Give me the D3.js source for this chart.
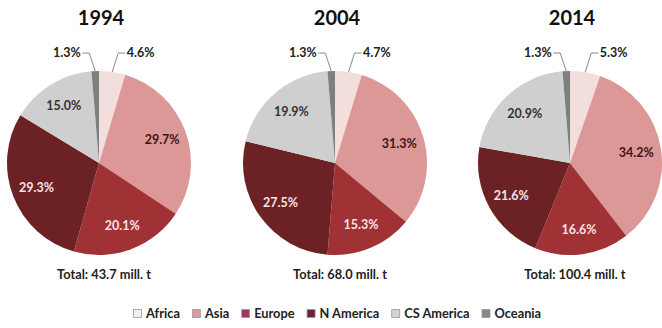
<!DOCTYPE html>
<html>
<head>
<meta charset="utf-8">
<script src="https://cdn.jsdelivr.net/npm/d3@7"></script>
<style>
  html, body { margin: 0; padding: 0; background: #fff; }
  svg { display: block; font-family: Lato, "Open Sans", sans-serif; }
</style>
</head>
<body>
<svg id="chart" width="662" height="328"></svg>
<script>
// Regional shares of production (%), by year
const regions = ["Africa", "Asia", "Europe", "N America", "CS America", "Oceania"];
const years = ["1994", "2004", "2014"];
const share1994 = [4.6, 29.7, 20.1, 29.3, 15.0, 1.3];
const share2004 = [4.7, 31.3, 15.3, 27.5, 19.9, 1.3];
const share2014 = [5.3, 34.2, 16.6, 21.6, 20.9, 1.3];
const totals = ["43.7", "68.0", "100.4"];   // mill. t
const shares = [share1994, share2004, share2014];

const colors = ["#f3dede", "#dc9896", "#a03236", "#6c2224", "#cfcfcf", "#7f7f7f"];
const labelColors = ["#222", "#3b1616", "#f6e4e4", "#f6e4e4", "#333", "#222"];
const legendColors = ["#efefef", "#dc9aa6", "#a03a5c", "#6c2234", "#d2d2d2", "#888888"];

const svg = d3.select("#chart");
const centersX = [99, 335, 570];
const cy = 163, R = 92;

const color = d3.scaleOrdinal().domain(regions).range(colors);
const labelColor = d3.scaleOrdinal().domain(regions).range(labelColors);

const pie = d3.pie().sort(null).value(d => d.value);
const arc = d3.arc().innerRadius(0).outerRadius(R);
const labelArc = d3.arc().innerRadius(R * 0.73).outerRadius(R * 0.73);

years.forEach((year, i) => {
  const data = regions.map((r, j) => ({ region: r, value: shares[i][j] }));
  const arcs = pie(data);
  const g = svg.append("g").attr("transform", `translate(${centersX[i]},${cy})`);

  g.selectAll("path.slice")
    .data(arcs)
    .join("path")
    .attr("class", "slice")
    .attr("d", arc)
    .attr("fill", d => color(d.data.region));

  // values inside the larger slices
  g.selectAll("text.inner")
    .data(arcs.filter(d => d.data.value >= 10))
    .join("text")
    .attr("class", "inner")
    .attr("transform", d => `translate(${labelArc.centroid(d)})`)
    .attr("text-anchor", "middle")
    .attr("dy", "0.35em")
    .attr("font-size", 12.5)
    .attr("font-weight", 700)
    .attr("fill", d => labelColor(d.data.region))
    .text(d => d.data.value.toFixed(1) + "%");

  // small slices get callouts above the pie
  const small = arcs.filter(d => d.data.value < 10);
  small.forEach(d => {
    const mid = (d.startAngle + d.endAngle) / 2;
    const a = mid > Math.PI ? mid - 2 * Math.PI : mid;
    const side = a < 0 ? -1 : 1;
    const ex = R * Math.sin(a), ey = -R * Math.cos(a);
    const kx = side * Math.abs(ex) + side * 6, ky = -R - 18;
    const hx = kx + side * 7;
    g.append("path")
      .attr("d", `M${ex},${ey}L${kx},${ky}L${hx},${ky}`)
      .attr("fill", "none")
      .attr("stroke", "#8a8a8a")
      .attr("stroke-width", 1);
    g.append("text")
      .attr("x", hx + side * 1.5)
      .attr("y", ky)
      .attr("dy", "0.35em")
      .attr("text-anchor", side < 0 ? "end" : "start")
      .attr("font-size", 12.5)
      .attr("font-weight", 700)
      .attr("fill", "#222")
      .text(d.data.value.toFixed(1) + "%");
  });

  svg.append("text")
    .attr("x", centersX[i] + 2)
    .attr("y", 25)
    .attr("text-anchor", "middle")
    .attr("font-size", 20)
    .attr("font-weight", 700)
    .attr("fill", "#111")
    .text(year);

  svg.append("text")
    .attr("x", centersX[i] + 5)
    .attr("y", 279)
    .attr("text-anchor", "middle")
    .attr("font-size", 12.8)
    .attr("font-weight", 700)
    .attr("fill", "#222")
    .text(`Total: ${totals[i]} mill. t`);
});

// legend
const legend = svg.append("g").attr("transform", "translate(133,314)");
let lx = 0;
regions.forEach((r, j) => {
  const item = legend.append("g").attr("transform", `translate(${lx},0)`);
  item.append("rect")
    .attr("x", 0.5).attr("y", -4.5)
    .attr("width", 8).attr("height", 8)
    .attr("fill", legendColors[j])
    .attr("stroke", "#9a9a9a")
    .attr("stroke-width", 0.8);
  const t = item.append("text")
    .attr("x", 13)
    .attr("dy", "0.35em")
    .attr("font-size", 12.8)
    .attr("font-weight", 700)
    .attr("fill", "#222")
    .text(r);
  lx += 13 + t.node().getComputedTextLength() + 12;
});
</script>
</body>
</html>
